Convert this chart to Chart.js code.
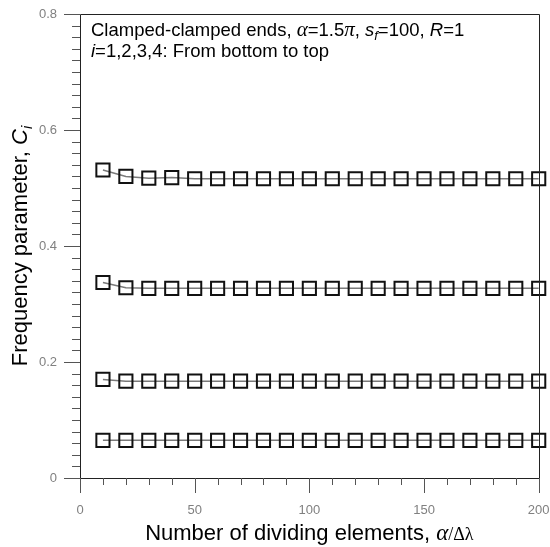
<!DOCTYPE html>
<html>
<head>
<meta charset="utf-8">
<script src="https://cdn.jsdelivr.net/npm/chart.js@4/dist/chart.umd.min.js"></script>
<style>
  html, body { margin: 0; padding: 0; background: #fff; overflow: hidden; }
  #wrap { width: 550px; height: 547px; position: relative; }
</style>
</head>
<body>
<div id="wrap"><canvas id="myChart"></canvas></div>
<script>
// number of dividing elements (x)
const divisions = [10, 20, 30, 40, 50, 60, 70, 80, 90, 100, 110, 120, 130, 140, 150, 160, 170, 180, 190, 200]

// frequency parameter C_i, i = 1..4
const c1 = [0.065, 0.065, 0.065, 0.065, 0.065, 0.065, 0.065, 0.065, 0.065, 0.065, 0.065, 0.065, 0.065, 0.065, 0.065, 0.065, 0.065, 0.065, 0.065, 0.065]
const c2 = [0.170, 0.167, 0.167, 0.167, 0.167, 0.167, 0.167, 0.167, 0.167, 0.167, 0.167, 0.167, 0.167, 0.167, 0.167, 0.167, 0.167, 0.167, 0.167, 0.167]
const c3 = [0.337, 0.328, 0.327, 0.327, 0.327, 0.327, 0.327, 0.327, 0.327, 0.327, 0.327, 0.327, 0.327, 0.327, 0.327, 0.327, 0.327, 0.327, 0.327, 0.327]
const c4 = [0.531, 0.520, 0.517, 0.518, 0.516, 0.516, 0.516, 0.516, 0.516, 0.516, 0.516, 0.516, 0.516, 0.516, 0.516, 0.516, 0.516, 0.516, 0.516, 0.516]

const xTicks = [0, 50, 100, 150, 200]
const yTicks = [0, 0.2, 0.4, 0.6, 0.8]

const SANS = 'Arial, "Liberation Sans", sans-serif'
const SERIF = '"Times New Roman", "Liberation Serif", serif'

function series(values) {
  return {
    data: divisions.map((x, i) => ({x: x, y: values[i]})),
    borderColor: '#7a7a7a',
    borderWidth: 1.5,
    pointStyle: 'rect',
    pointRadius: 9.3,
    pointBorderWidth: 2,
    pointBorderColor: '#111',
    pointBackgroundColor: 'rgba(0,0,0,0)',
    fill: false,
    tension: 0,
    clip: false
  }
}

// draws a row of text pieces with their own fonts (italics, subscripts)
function drawRuns(ctx, runs, x, y, align) {
  let total = 0
  runs.forEach(r => { ctx.font = r.font; total += ctx.measureText(r.text).width })
  let cx = align === 'center' ? x - total / 2 : x
  ctx.textAlign = 'left'
  ctx.textBaseline = 'alphabetic'
  runs.forEach(r => {
    ctx.font = r.font
    ctx.fillText(r.text, cx, y + (r.dy || 0))
    cx += ctx.measureText(r.text).width
  })
}

const decorations = {
  id: 'decorations',
  afterDraw(chart) {
    const ctx = chart.ctx
    const a = chart.chartArea
    const xs = chart.scales.x
    const ys = chart.scales.y
    ctx.save()

    // frame
    ctx.strokeStyle = '#222'
    ctx.lineWidth = 1
    ctx.beginPath()
    ctx.rect(Math.round(a.left) + 0.5, Math.round(a.top) + 0.5, Math.round(a.right - a.left), Math.round(a.bottom - a.top))
    ctx.stroke()

    // tick marks
    ctx.strokeStyle = '#555'
    ctx.beginPath()
    for (let v = 0; v <= 200; v += 10) {
      const px = Math.round(xs.getPixelForValue(v)) + 0.5
      const len = v % 50 === 0 ? 15 : 7
      ctx.moveTo(px, a.bottom)
      ctx.lineTo(px, a.bottom + len)
    }
    for (let k = 0; k <= 40; k++) {
      const py = Math.round(ys.getPixelForValue(k * 0.02)) + 0.5
      const len = k % 10 === 0 ? 16 : 8
      ctx.moveTo(a.left, py)
      ctx.lineTo(a.left - len, py)
    }
    ctx.stroke()

    ctx.fillStyle = '#000'
    // annotation
    drawRuns(ctx, [
      {text: 'Clamped-clamped ends, ', font: '18.5px ' + SANS},
      {text: 'α', font: 'italic 21px ' + SERIF},
      {text: '=1.5', font: '18.5px ' + SANS},
      {text: 'π', font: 'italic 21px ' + SERIF},
      {text: ', ', font: '18.5px ' + SANS},
      {text: 's', font: 'italic 18.5px ' + SANS},
      {text: 'f', font: 'italic 13px ' + SANS, dy: 4},
      {text: '=100, ', font: '18.5px ' + SANS},
      {text: 'R', font: 'italic 18.5px ' + SANS},
      {text: '=1', font: '18.5px ' + SANS}
    ], 91, 36, 'left')
    drawRuns(ctx, [
      {text: 'i', font: 'italic 18.5px ' + SANS},
      {text: '=1,2,3,4: From bottom to top', font: '18.5px ' + SANS}
    ], 91, 57, 'left')

    // x title
    const midX = (a.left + a.right) / 2
    drawRuns(ctx, [
      {text: 'Number of dividing elements, ', font: '22px ' + SANS},
      {text: 'α', font: 'italic 23px ' + SERIF},
      {text: '/Δλ', font: '18px ' + SERIF}
    ], midX, 540, 'center')

    // y title
    const midY = (a.top + a.bottom) / 2
    ctx.translate(27, midY)
    ctx.rotate(-Math.PI / 2)
    drawRuns(ctx, [
      {text: 'Frequency parameter, ', font: '22px ' + SANS},
      {text: 'C', font: 'italic 22px ' + SANS},
      {text: 'i', font: 'italic 15px ' + SANS, dy: 5}
    ], 0, 0, 'center')

    ctx.restore()
  }
}

const ctx = document.getElementById('myChart')
const lineChart = new Chart(ctx, {
  type: 'line',
  data: {
    datasets: [series(c1), series(c2), series(c3), series(c4)]
  },
  options: {
    responsive: true,
    maintainAspectRatio: false,
    animation: false,
    layout: {padding: {top: 14, right: 11, left: 0, bottom: 0}},
    plugins: {legend: {display: false}, tooltip: {enabled: false}},
    scales: {
      x: {
        type: 'linear',
        min: 0,
        max: 200,
        afterBuildTicks: s => { s.ticks = xTicks.map(v => ({value: v})) },
        afterFit: s => { s.height = 69; s.paddingLeft = 0; s.paddingRight = 0 },
        grid: {display: false, drawTicks: false},
        border: {display: false},
        ticks: {color: '#808080', font: {size: 13, family: SANS}, padding: 25, maxRotation: 0}
      },
      y: {
        type: 'linear',
        min: 0,
        max: 0.8,
        afterBuildTicks: s => { s.ticks = yTicks.map(v => ({value: v})) },
        afterFit: s => { s.width = 80; s.paddingTop = 0; s.paddingBottom = 0 },
        grid: {display: false, drawTicks: false},
        border: {display: false},
        ticks: {color: '#808080', font: {size: 13, family: SANS}, padding: 23,
          callback: v => v === 0 ? '0' : v.toFixed(1)}
      }
    }
  },
  plugins: [decorations]
})
</script>
</body>
</html>
